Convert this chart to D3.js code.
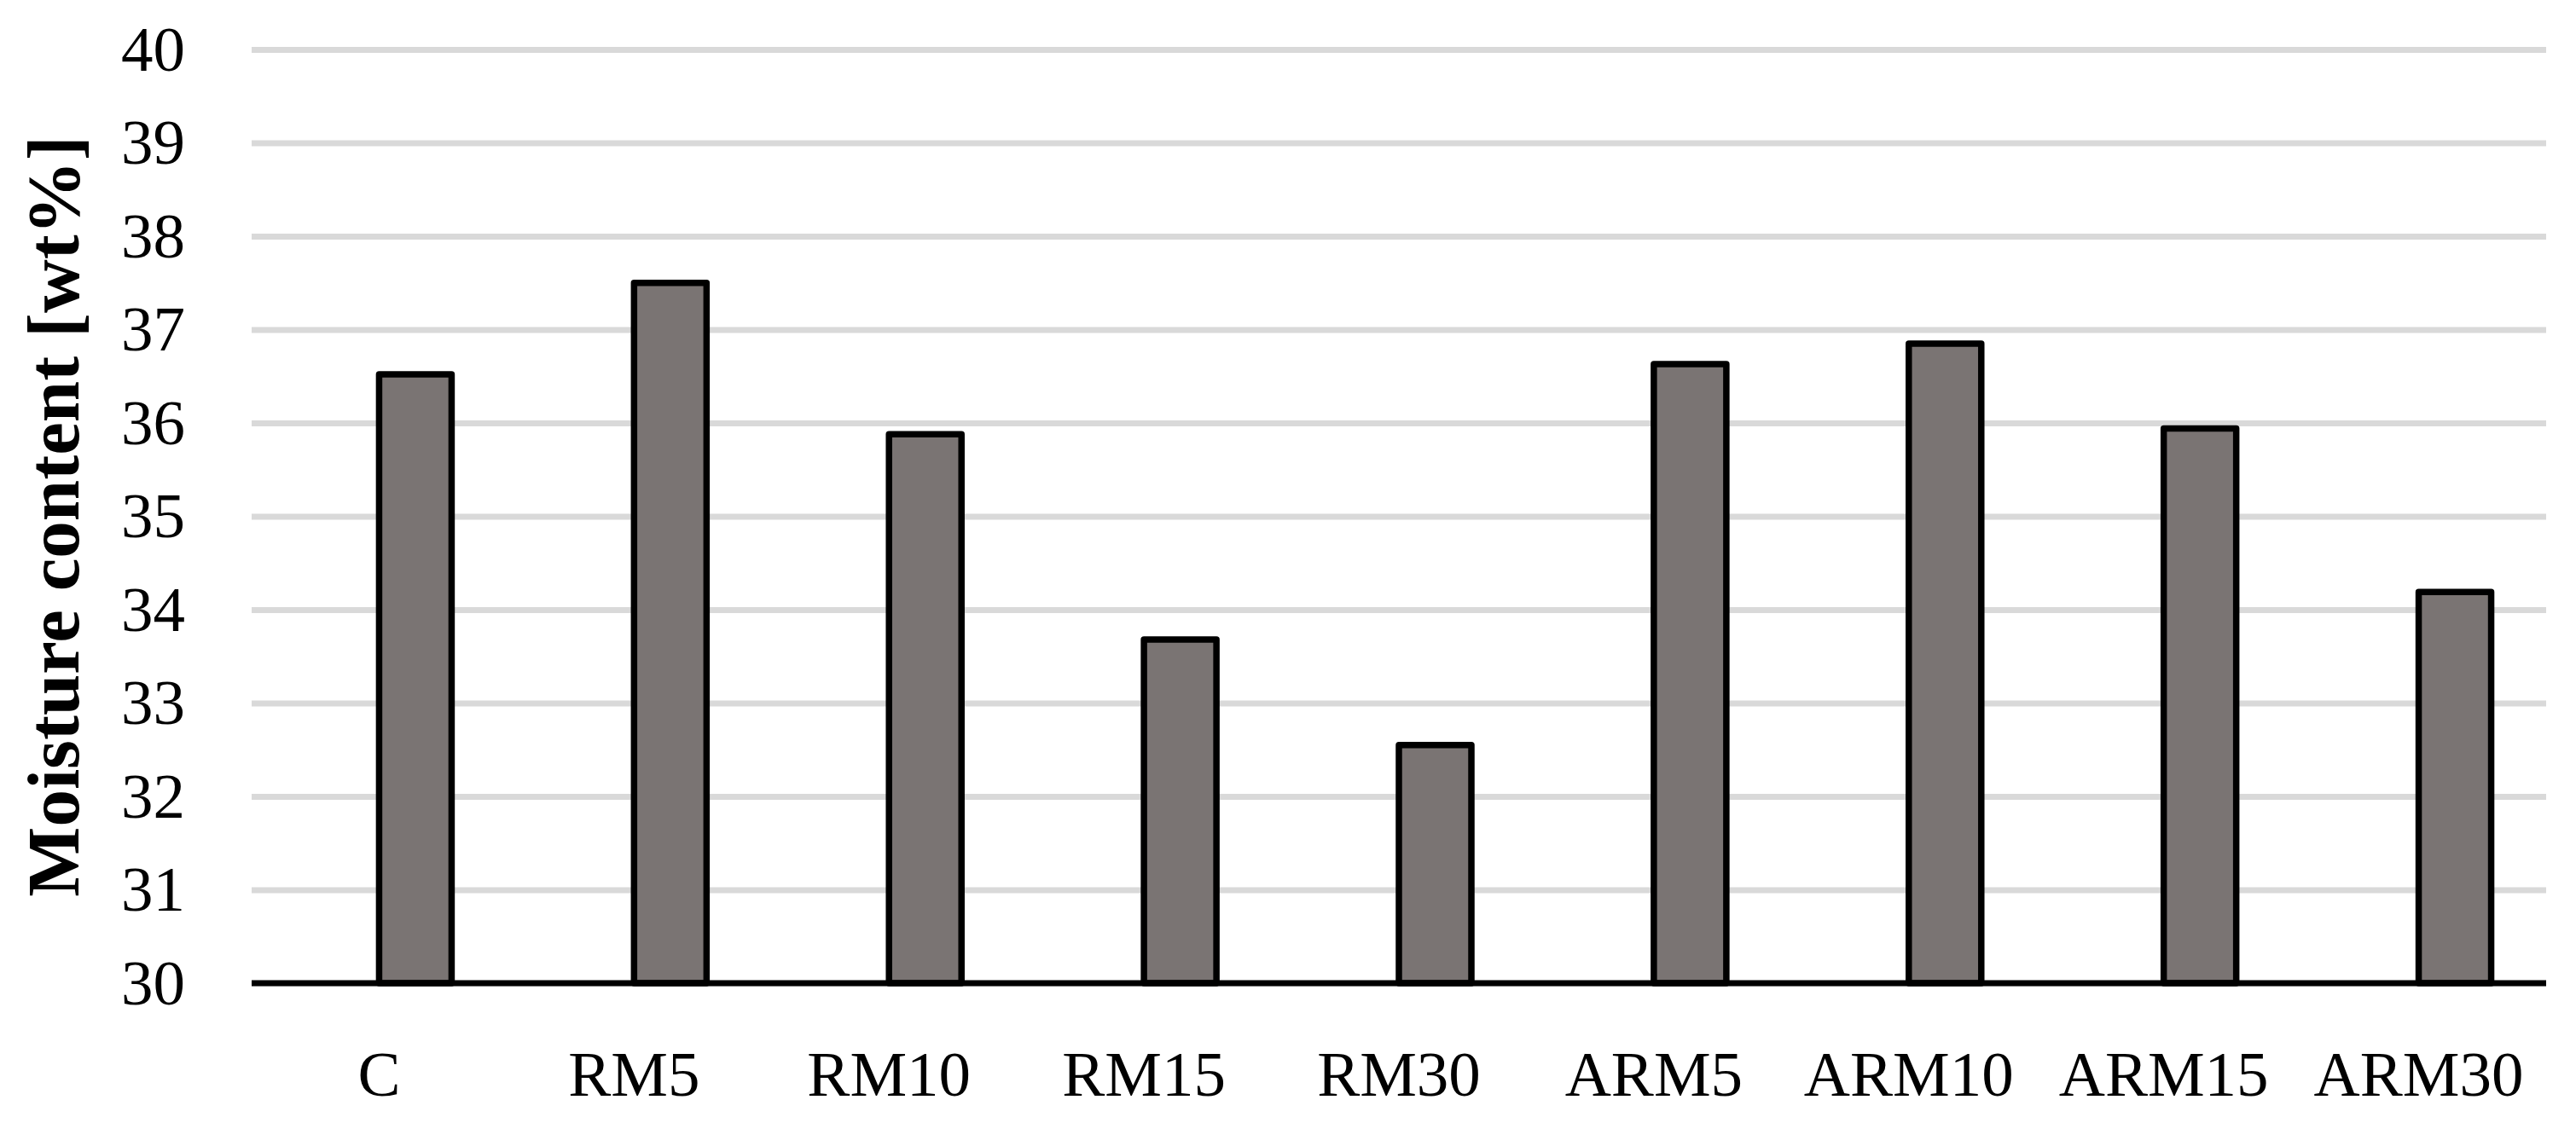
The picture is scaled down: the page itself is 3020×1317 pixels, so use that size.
<!DOCTYPE html>
<html>
<head>
<meta charset="utf-8">
<script src="https://cdn.jsdelivr.net/npm/d3@7"></script>
<style>
  body { margin: 0; background: #fff; }
  svg { display: block; }
</style>
</head>
<body>
<div id="chart"></div>
<script>
const width = 3020;
const height = 1317;

const samples = ["C", "RM5", "RM10", "RM15", "RM30", "ARM5", "ARM10", "ARM15", "ARM30"];
const moisture = [36.52, 37.50, 35.88, 33.68, 32.55, 36.63, 36.85, 35.94, 34.19];
const yTicks = [30, 31, 32, 33, 34, 35, 36, 37, 38, 39, 40];

const plot = { left: 295, right: 2985, top: 58, bottom: 1153 };

const svg = d3.select("#chart")
    .append("svg")
    .attr("width", width)
    .attr("height", height);

const x = d3.scaleBand()
    .domain(samples)
    .range([plot.left, plot.right]);

const y = d3.scaleLinear()
    .domain([30, 40])
    .range([plot.bottom, plot.top]);

// gridlines + tick labels
const yAxis = svg.append("g")
    .attr("transform", `translate(${plot.left},0)`)
    .call(d3.axisLeft(y)
        .tickValues(yTicks)
        .tickSize(-(plot.right - plot.left))
        .tickPadding(78)
        .tickFormat(d3.format("d")));

yAxis.select(".domain").remove();
yAxis.selectAll(".tick line")
    .attr("stroke", "#d9d9d9")
    .attr("stroke-width", 7);
yAxis.selectAll(".tick text")
    .attr("fill", "#000")
    .style("font-family", "'Liberation Serif', 'Times New Roman', serif")
    .style("font-size", "75px");

// bars sit in the right half of each category slot
const barWidth = 85;
svg.selectAll(".bar")
    .data(moisture)
    .enter()
    .append("rect")
    .attr("class", "bar")
    .attr("x", (d, i) => x(samples[i]) + x.bandwidth() / 2)
    .attr("y", d => y(d))
    .attr("width", barWidth)
    .attr("height", d => y(30) - y(d))
    .attr("fill", "#7a7473")
    .attr("stroke", "#000")
    .attr("stroke-width", 7.5)
    .attr("stroke-linejoin", "round");

// category axis
const xAxis = svg.append("g")
    .attr("transform", `translate(0,${plot.bottom})`)
    .call(d3.axisBottom(x).tickSize(0).tickPadding(79));

xAxis.select(".domain").remove();
xAxis.selectAll(".tick text")
    .attr("fill", "#000")
    .style("font-family", "'Liberation Serif', 'Times New Roman', serif")
    .style("font-size", "75px");

svg.append("line")
    .attr("x1", plot.left)
    .attr("x2", plot.right)
    .attr("y1", y(30))
    .attr("y2", y(30))
    .attr("stroke", "#000")
    .attr("stroke-width", 7);

// y axis title
svg.append("text")
    .attr("transform", `translate(92,${(plot.top + plot.bottom) / 2}) rotate(-90)`)
    .attr("text-anchor", "middle")
    .style("font-family", "'Liberation Serif', 'Times New Roman', serif")
    .style("font-size", "87px")
    .style("font-weight", "bold")
    .text("Moisture content [wt%]");
</script>
</body>
</html>
